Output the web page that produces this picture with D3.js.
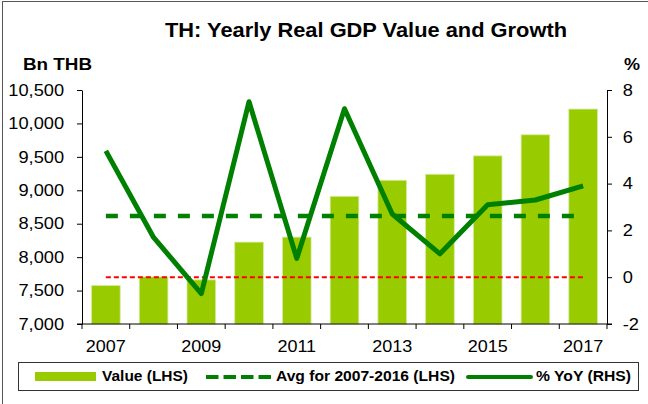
<!DOCTYPE html>
<html>
<head>
<meta charset="utf-8">
<script src="https://cdn.jsdelivr.net/npm/d3@7"></script>
<style>
  body { margin: 0; background: #fff; }
  text { font-family: "Liberation Sans", Arial, sans-serif; fill: #000; }
</style>
</head>
<body>
<script>
var width = 648, height = 404;

var years = ["2007","2008","2009","2010","2011","2012","2013","2014","2015","2016","2017"];
var gdpValue = [7575, 7705, 7660, 8225, 8300, 8910, 9150, 9240, 9515, 9830, 10215];
var yoyGrowth = [5.4, 1.7, -0.7, 7.5, 0.8, 7.2, 2.7, 1.0, 3.1, 3.3, 3.9];
var avgValue = 8615;
var leftTicks = [7000, 7500, 8000, 8500, 9000, 9500, 10000, 10500];
var rightTicks = [-2, 0, 2, 4, 6, 8];
var xLabels = ["2007","2009","2011","2013","2015","2017"];

var svg = d3.select("body").append("svg")
    .attr("width", width)
    .attr("height", height);

// outer frame
svg.append("rect")
    .attr("x", 2.5).attr("y", 1.5)
    .attr("width", 800).attr("height", 600)
    .attr("fill", "none").attr("stroke", "#555");

var plotL = 82, plotR = 607, plotT = 90, plotB = 324;

var x = d3.scaleBand().domain(years).range([plotL, plotR])
    .paddingInner(0.4).paddingOuter(0.2);
var yL = d3.scaleLinear().domain([7000, 10500]).range([plotB, plotT]);
var yR = d3.scaleLinear().domain([-2, 8]).range([plotB, plotT]);
var cx = function(d) { return x(d) + x.bandwidth() / 2; };

// bars
svg.selectAll(".bar")
    .data(years)
    .enter().append("rect")
    .attr("class", "bar")
    .attr("x", function(d) { return x(d); })
    .attr("width", x.bandwidth())
    .attr("y", function(d, i) { return yL(gdpValue[i]); })
    .attr("height", function(d, i) { return plotB - yL(gdpValue[i]); })
    .attr("fill", "#99cc00")
    .attr("stroke", "#d6eba0")
    .attr("stroke-width", 0.8);

// zero line (RHS)
svg.append("line")
    .attr("x1", cx(years[0])).attr("x2", cx(years[years.length - 1]))
    .attr("y1", yR(0)).attr("y2", yR(0))
    .attr("stroke", "#ff0000").attr("stroke-width", 2)
    .attr("stroke-dasharray", "5,3");

// average line
svg.append("line")
    .attr("x1", cx(years[0])).attr("x2", cx(years[years.length - 1]))
    .attr("y1", yL(avgValue)).attr("y2", yL(avgValue))
    .attr("stroke", "#008000").attr("stroke-width", 4.5)
    .attr("stroke-dasharray", "12,12");

// yoy line
var line = d3.line()
    .x(function(d, i) { return cx(years[i]); })
    .y(function(d) { return yR(d); });
svg.append("path")
    .datum(yoyGrowth)
    .attr("d", line)
    .attr("fill", "none")
    .attr("stroke", "#008000")
    .attr("stroke-width", 5)
    .attr("stroke-linejoin", "round");

// axes (text is a bit wide in the original, so stretch it horizontally)
var gL = svg.append("g")
    .attr("transform", "translate(" + plotL + ",0)")
    .call(d3.axisLeft(yL).tickValues(leftTicks).tickFormat(d3.format(","))
      .tickSize(5).tickSizeOuter(0).tickPadding(11));
var gR = svg.append("g")
    .attr("transform", "translate(" + plotR + ",0)")
    .call(d3.axisRight(yR).tickValues(rightTicks).tickFormat(function(d) { return String(d); })
      .tickSize(5).tickSizeOuter(0).tickPadding(9));

[gL, gR].forEach(function(g) {
  g.selectAll("text")
    .style("font-size", "16.3px").style("font-family", "Liberation Sans, Arial")
    .attr("transform", "scale(1.12,1)");
  g.selectAll("path, line").attr("stroke", "#000");
});

// x axis
svg.append("line")
    .attr("x1", plotL - 5).attr("x2", plotR + 5)
    .attr("y1", plotB).attr("y2", plotB)
    .attr("stroke", "#000");
var bounds = years.map(function(d) { return x(d) - x.step() * x.paddingInner() / 2; });
bounds[0] = plotL;
bounds.push(plotR);
svg.selectAll(".xtick")
    .data(bounds)
    .enter().append("line")
    .attr("x1", function(d) { return d; }).attr("x2", function(d) { return d; })
    .attr("y1", plotB).attr("y2", plotB + 5)
    .attr("stroke", "#000");
svg.selectAll(".xlabel")
    .data(xLabels)
    .enter().append("text")
    .attr("transform", function(d) { return "translate(" + cx(d) + "," + (plotB + 28) + ") scale(1.06,1)"; })
    .attr("text-anchor", "middle")
    .style("font-size", "17px")
    .text(function(d) { return d; });

// titles
svg.append("text")
    .attr("x", 165).attr("y", 37)
    .attr("textLength", 402).attr("lengthAdjust", "spacingAndGlyphs")
    .style("font-size", "19.5px").style("font-weight", "bold")
    .text("TH: Yearly Real GDP Value and Growth");
svg.append("text")
    .attr("x", 23).attr("y", 70)
    .attr("textLength", 69).attr("lengthAdjust", "spacingAndGlyphs")
    .style("font-size", "16px").style("font-weight", "bold")
    .text("Bn THB");
svg.append("text")
    .attr("x", 624).attr("y", 70)
    .attr("textLength", 16).attr("lengthAdjust", "spacingAndGlyphs")
    .style("font-size", "16px").style("font-weight", "bold")
    .text("%");

// legend
var lg = svg.append("g");
lg.append("rect")
    .attr("x", 18.5).attr("y", 362.5)
    .attr("width", 620).attr("height", 28)
    .attr("fill", "#fff").attr("stroke", "#333");
lg.append("rect")
    .attr("x", 35).attr("y", 372).attr("width", 61).attr("height", 9)
    .attr("fill", "#99cc00");
lg.append("text").attr("x", 102).attr("y", 381)
    .attr("textLength", 86).attr("lengthAdjust", "spacingAndGlyphs")
    .style("font-size", "14px").style("font-weight", "bold")
    .text("Value (LHS)");
lg.append("line")
    .attr("x1", 206).attr("x2", 271).attr("y1", 377).attr("y2", 377)
    .attr("stroke", "#008000").attr("stroke-width", 4)
    .attr("stroke-dasharray", "12.5,5");
lg.append("text").attr("x", 276).attr("y", 381)
    .attr("textLength", 179).attr("lengthAdjust", "spacingAndGlyphs")
    .style("font-size", "14px").style("font-weight", "bold")
    .text("Avg for 2007-2016 (LHS)");
lg.append("line")
    .attr("x1", 468).attr("x2", 531).attr("y1", 377).attr("y2", 377)
    .attr("stroke", "#008000").attr("stroke-width", 4)
    .attr("stroke-linecap", "round");
lg.append("text").attr("x", 536).attr("y", 381)
    .attr("textLength", 95).attr("lengthAdjust", "spacingAndGlyphs")
    .style("font-size", "14px").style("font-weight", "bold")
    .text("% YoY (RHS)");
</script>
</body>
</html>
